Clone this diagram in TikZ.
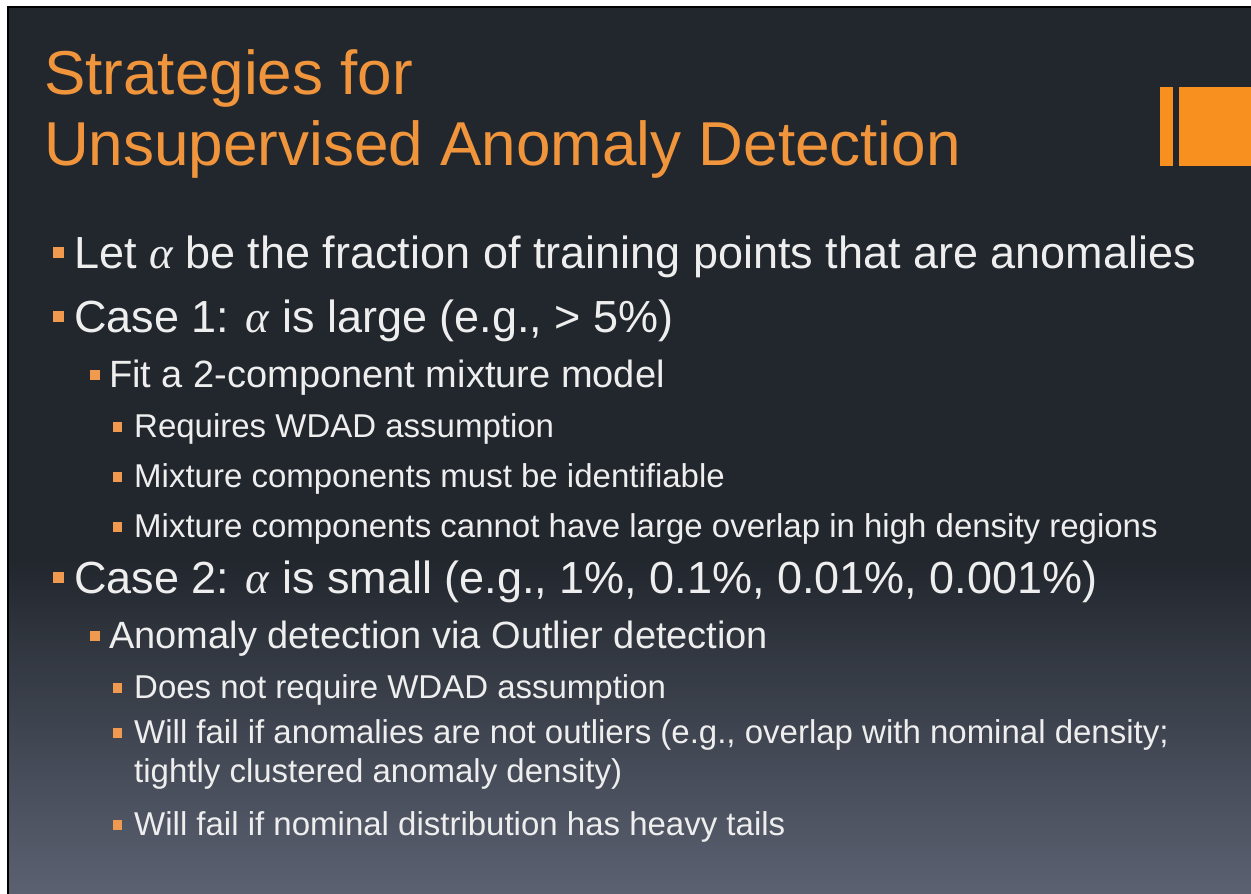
\documentclass[tikz,border=0pt]{standalone}
\usepackage{fontspec}
\setmainfont{Liberation Sans}
\newfontfamily\greekserif{Liberation Serif}
\newcommand{\galpha}{{\greekserif\itshape α}}
\usetikzlibrary{calc}
\definecolor{slidetop}{HTML}{22272E}
\definecolor{slidebot}{HTML}{5B6171}
\definecolor{titleorange}{HTML}{F0953C}
\definecolor{bulletorange}{HTML}{F09A50}
\definecolor{barorange}{HTML}{F7901E}
\definecolor{bodytext}{HTML}{EEEEEE}
\tikzset{
    titletext/.style={anchor=base west, inner sep=0pt, text=titleorange,
        font=\fontsize{62}{70}\selectfont},
    levelone/.style={anchor=base west, inner sep=0pt, text=bodytext,
        font=\fontsize{45}{54}\selectfont},
    leveltwo/.style={anchor=base west, inner sep=0pt, text=bodytext,
        font=\fontsize{38}{46}\selectfont},
    levelthree/.style={anchor=base west, inner sep=0pt, text=bodytext,
        font=\fontsize{33}{39}\selectfont},
    bulone/.style={fill=bulletorange, inner sep=0pt, minimum size=11pt},
    bultwo/.style={fill=bulletorange, inner sep=0pt, minimum size=10.5pt},
    bulthree/.style={fill=bulletorange, inner sep=0pt, minimum size=9.5pt}
}

\begin{document}
\begin{tikzpicture}[
    x={(1pt,0pt)},
    y={(0pt,-1pt)}
]
\useasboundingbox (0,0) rectangle (1251,894);
\fill[white] (0,0) rectangle (1251,894);

% --- Hintergrund der Folie ---
\fill[slidetop] (8,7) rectangle (1251,560);
\shade[top color=slidetop, bottom color=slidebot] (8,560) rectangle (1251,894);
\draw[black, line width=2pt] (8,894) -- (8,7) -- (1251,7);

% --- Balken rechts ---
\fill[barorange] (1160,87) rectangle (1173,166);
\fill[barorange] (1179,87) rectangle (1251,166);

% --- Titel ---
\node[titletext] (title1) at (44,94) {Strategies for};
\node[titletext] (title2) at (44,165) {Unsupervised Anomaly Detection};

% --- erste Ebene ---
\node[levelone] (frac) at (74,268) {Let \galpha{} be the fraction of training points that are anomalies};
\node[bulone] at ($(frac.base west)+(-16,-15.5)$) {};

\node[levelone] (case1) at (74,332) {Case 1: \galpha{} is large (e.g., > 5\%)};
\node[bulone] at ($(case1.base west)+(-16,-15.5)$) {};

% Mischmodell
\node[leveltwo] (fit) at (109,387) {Fit a 2-component mixture model};
\node[bultwo] at ($(fit.base west)+(-14,-12)$) {};

\node[levelthree] (wdad1) at (134,437) {Requires WDAD assumption};
\node[bulthree] at ($(wdad1.base west)+(-16.5,-10)$) {};
\node[levelthree] (ident) at (134,487) {Mixture components must be identifiable};
\node[bulthree] at ($(ident.base west)+(-16.5,-10)$) {};
\node[levelthree] (overlap) at (134,537) {Mixture components cannot have large overlap in high density regions};
\node[bulthree] at ($(overlap.base west)+(-16.5,-10)$) {};

% --- zweiter Fall ---
\node[levelone] (case2) at (74,593) {Case 2: \galpha{} is small (e.g., 1\%, 0.1\%, 0.01\%, 0.001\%)};
\node[bulone] at ($(case2.base west)+(-16,-15.5)$) {};

% Ausreisser
\node[leveltwo] (outlier) at (109,648) {Anomaly detection via Outlier detection};
\node[bultwo] at ($(outlier.base west)+(-14,-12)$) {};

\node[levelthree] (wdad2) at (134,698) {Does not require WDAD assumption};
\node[bulthree] at ($(wdad2.base west)+(-16.5,-10)$) {};
\node[levelthree] (fail1) at (134,743) {Will fail if anomalies are not outliers (e.g., overlap with nominal density;};
\node[levelthree] (fail1b) at (134,782) {tightly clustered anomaly density)};
\node[bulthree] at ($(fail1.base west)+(-16.5,-10)$) {};
\node[levelthree] (tails) at (134,835) {Will fail if nominal distribution has heavy tails};
\node[bulthree] at ($(tails.base west)+(-16.5,-10)$) {};

\end{tikzpicture}
\end{document}
